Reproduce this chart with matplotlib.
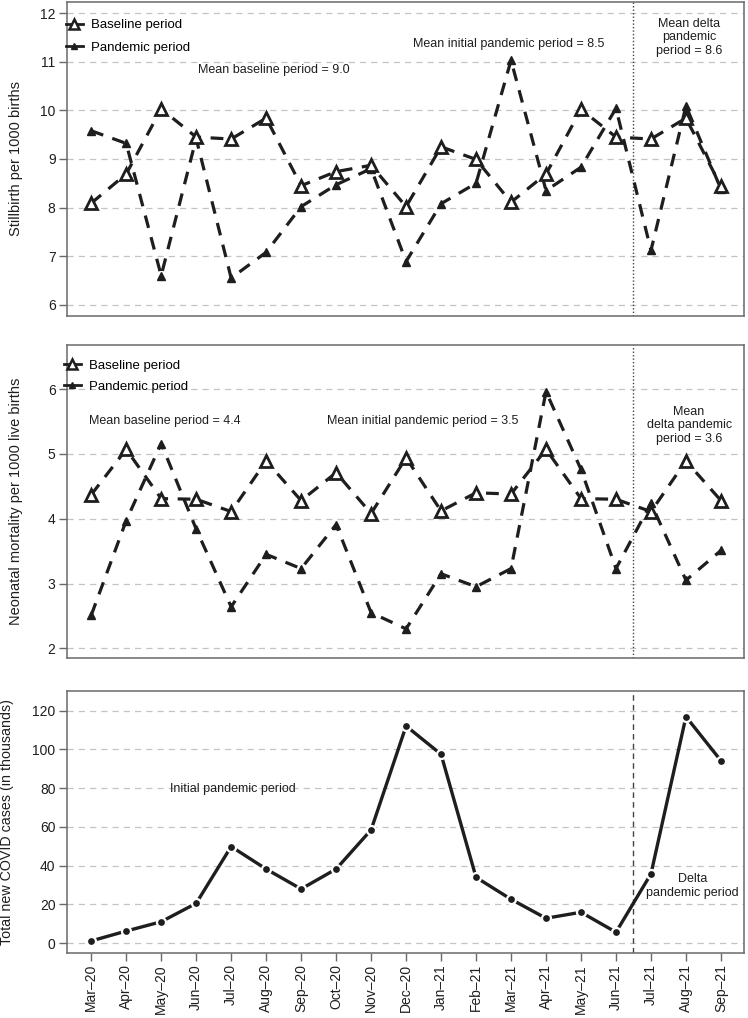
import matplotlib
matplotlib.use("Agg")
import matplotlib.pyplot as plt
from matplotlib.lines import Line2D
import numpy as np

plt.rcParams['font.family'] = ['Liberation Sans', 'DejaVu Sans']

months = ["Mar\u201220", "Apr\u201220", "May\u201220", "Jun\u201220", "Jul\u201220", "Aug\u201220",
          "Sep\u201220", "Oct\u201220", "Nov\u201220", "Dec\u201220", "Jan\u201221", "Feb\u201221",
          "Mar\u201221", "Apr\u201221", "May\u201221", "Jun\u201221", "Jul\u201221", "Aug\u201221",
          "Sep\u201221"]

stillbirth_baseline = [8.09, 8.69, 10.03, 9.45, 9.41, 9.84, 8.45, 8.74, 8.87, 8.02, 9.25, 8.99,
                       8.11, 8.69, 10.02, 9.45, 9.41, 9.84, 8.44]
stillbirth_pandemic = [9.58, 9.32, 6.60, 9.42, 6.55, 7.08, 8.02, 8.47, 8.80, 6.89, 8.08, 8.50,
                       11.03, 8.35, 8.83, 10.04, 7.12, 10.09, 8.38]

neonatal_baseline = [4.37, 5.07, 4.31, 4.30, 4.11, 4.89, 4.28, 4.71, 4.08, 4.94, 4.12, 4.40,
                     4.38, 5.07, 4.31, 4.30, 4.11, 4.89, 4.28]
neonatal_pandemic = [2.51, 3.97, 5.16, 3.84, 2.64, 3.45, 3.23, 3.91, 2.55, 2.30, 3.15, 2.95,
                     3.23, 5.96, 4.76, 3.23, 4.24, 3.05, 3.51]

covid_cases = [1.2, 6.3, 11.1, 20.6, 49.9, 38.3, 28.0, 38.3, 58.5, 112.1, 97.5, 34.0,
               22.7, 12.9, 16.0, 5.7, 35.8, 116.9, 94.2]

x = np.arange(len(months))
delta_start = 15.5

fig = plt.figure(figsize=(7.48, 10.18), dpi=100)
L, W = 0.0892, 0.9055
ax1 = fig.add_axes([L, 0.6896, W, 0.3085])
ax2 = fig.add_axes([L, 0.3536, W, 0.3075])
ax3 = fig.add_axes([L, 0.0639, W, 0.2574])

ink = '#1e1e1e'
spine_c = '#6a6a6a'
grid_c = '#c4c4c4'

def style(ax, yticks, ylim):
    ax.set_xlim(-0.7, 18.66)
    ax.set_ylim(*ylim)
    ax.set_yticks(yticks)
    for y in yticks:
        ax.axhline(y, color=grid_c, lw=0.9, ls=(0, (5, 4)), zorder=0)
    for s in ax.spines.values():
        s.set_color(spine_c)
        s.set_linewidth(1.1)
    ax.tick_params(axis='y', direction='out', length=6, width=1, color=spine_c,
                   labelsize=10, labelcolor=ink, pad=2)

def series(ax, base, pand):
    ax.plot(x, pand, color=ink, lw=2.3, ls=(0, (4, 3)), dash_capstyle='butt',
            marker='^', ms=5.5, mfc=ink, mec=ink, zorder=3)
    ax.plot(x, base, color=ink, lw=2.3, ls=(0, (4, 3)), dash_capstyle='butt',
            marker='^', ms=8.5, mfc='white', mec=ink, mew=2, zorder=4)
    h1 = Line2D([0], [0], color=ink, lw=2, marker='^', ms=7, mfc='white', mec=ink, mew=1.8)
    h2 = Line2D([0], [0], color=ink, lw=2, marker='^', ms=5, mfc=ink, mec=ink)
    return [h1, h2]

# Top panel
style(ax1, [6, 7, 8, 9, 10, 11, 12], (5.77, 12.23))
hs = series(ax1, stillbirth_baseline, stillbirth_pandemic)
ax1.set_xticks([])
ax1.axvline(delta_start, color='#444444', lw=1, ls=(0, (1, 1.5)), zorder=2)
ax1.legend(hs, ["Baseline period", "Pandemic period"], loc='upper left',
           bbox_to_anchor=(-0.012, 0.968), frameon=False, fontsize=9.5,
           handlelength=1.3, handletextpad=0.6, labelspacing=0.75, borderpad=0.55,
           borderaxespad=0)
ax1.set_ylabel("Stillbirth per 1000 births", fontsize=10.5, color=ink)
ax1.yaxis.set_label_coords(-0.064, 0.5)
ax1.text(5.21, 10.82, "Mean baseline period = 9.0", ha='center', va='center', fontsize=9, color=ink)
ax1.text(11.93, 11.36, "Mean initial pandemic period = 8.5", ha='center', va='center', fontsize=9, color=ink)
ax1.text(17.09, 11.5, "Mean delta\npandemic\nperiod = 8.6", ha='center', va='center', fontsize=9,
         color=ink, linespacing=1.15)

# Middle panel
style(ax2, [2, 3, 4, 5, 6], (1.85, 6.68))
hs = series(ax2, neonatal_baseline, neonatal_pandemic)
ax2.set_xticks([])
ax2.axvline(delta_start, color='#444444', lw=1, ls=(0, (1, 1.5)), zorder=2)
ax2.legend(hs, ["Baseline period", "Pandemic period"], loc='upper left',
           bbox_to_anchor=(-0.012, 0.97), frameon=False, fontsize=9.5,
           handlelength=1.3, handletextpad=0.6, labelspacing=0.68, borderpad=0.4,
           borderaxespad=0)
ax2.set_ylabel("Neonatal mortality per 1000 live births", fontsize=10.5, color=ink)
ax2.yaxis.set_label_coords(-0.064, 0.5)
ax2.text(2.09, 5.51, "Mean baseline period = 4.4", ha='center', va='center', fontsize=9, color=ink)
ax2.text(9.47, 5.51, "Mean initial pandemic period = 3.5", ha='center', va='center', fontsize=9, color=ink)
ax2.text(17.09, 5.44, "Mean\ndelta pandemic\nperiod = 3.6", ha='center', va='center', fontsize=9,
         color=ink, linespacing=1.15)

# Bottom panel
style(ax3, [0, 20, 40, 60, 80, 100, 120], (-5, 130.2))
ax3.plot(x, covid_cases, color=ink, lw=2.4, marker='o', ms=6.5, mfc=ink, mec='white',
         mew=1.6, zorder=3)
ax3.axvline(delta_start, color='#444444', lw=1, ls=(0, (4, 3)), zorder=2)
ax3.set_xticks(x)
ax3.set_xticklabels(months, rotation=90, fontsize=10, color=ink)
ax3.tick_params(axis='x', direction='out', length=6, width=1, color=spine_c, pad=2)
ax3.set_ylabel("Total new COVID cases (in thousands)", fontsize=10.3, color=ink)
ax3.yaxis.set_label_coords(-0.078, 0.5)
ax3.text(4.06, 79.6, "Initial pandemic period", ha='center', va='center', fontsize=9, color=ink)
ax3.text(17.19, 29.6, "Delta\npandemic period", ha='center', va='center', fontsize=9,
         color=ink, linespacing=1.15)

fig.savefig("out.png", dpi=100)
